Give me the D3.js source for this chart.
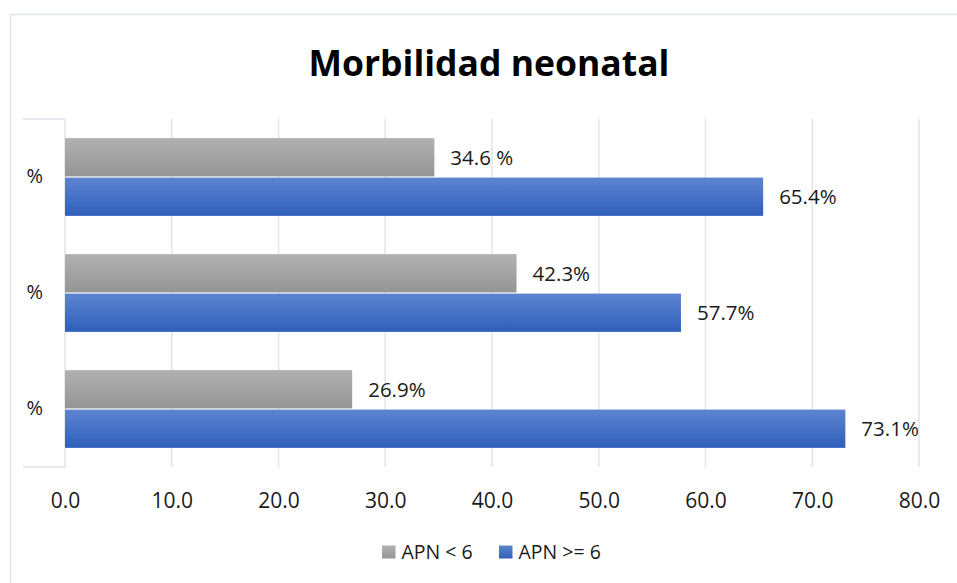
<!DOCTYPE html>
<html><head><meta charset="utf-8">
<script src="https://cdn.jsdelivr.net/npm/d3@7"></script>
<style>body{margin:0;background:#fff;} text{font-family:"Open Sans",Lato,sans-serif;}</style>
</head><body>
<svg id="c" width="957" height="583"></svg>
<script>
const categories = ["%", "%", "%"];
const seriesNames = ["APN < 6", "APN >= 6"];
const apnLess6 = [34.6, 42.3, 26.9];
const apnMore6 = [65.4, 57.7, 73.1];
const labelsLess6 = ["34.6 %", "42.3%", "26.9%"];
const labelsMore6 = ["65.4%", "57.7%", "73.1%"];
const xTicks = [0, 10, 20, 30, 40, 50, 60, 70, 80];

(function(){
const svg = d3.select("#c");
const defs = svg.append("defs");
function grad(id, c1, c2){
  const g = defs.append("linearGradient").attr("id", id).attr("x1",0).attr("y1",0).attr("x2",0).attr("y2",1);
  g.append("stop").attr("offset","0%").attr("stop-color",c1);
  g.append("stop").attr("offset","100%").attr("stop-color",c2);
}
grad("gGray", "#b1b1b1", "#959595");
grad("gBlue", "#5d84cf", "#2f5fbb");

// outer border
svg.append("path").attr("d","M10.5,583 V14.5 H957").attr("fill","none").attr("stroke","#dfe3ea").attr("stroke-width",1.5);

const pLeft = 65, pRight = 919, pTop = 119, pBottom = 467;
const x = d3.scaleLinear().domain([0, 80]).range([pLeft, pRight]);
const y = d3.scaleBand().domain(d3.range(categories.length)).range([pTop, pBottom]).paddingInner(0.33).paddingOuter(0.165);
const sub = d3.scaleBand().domain([0,1]).range([0, y.bandwidth()]).paddingInner(0.03);

// gridlines
svg.append("g").selectAll("line").data(xTicks.slice(1)).join("line")
  .attr("x1", d=>x(d)).attr("x2", d=>x(d)).attr("y1", pTop).attr("y2", pBottom)
  .attr("stroke","#e1e4ea").attr("stroke-width",1.5);

// category axis box
svg.append("path").attr("d",`M23,${pTop} H${pLeft} V${pBottom} H23`).attr("fill","none").attr("stroke","#e1e4ea").attr("stroke-width",1.5);

// x axis labels
const xAxis = d3.axisBottom(x).tickValues(xTicks).tickFormat(d3.format(".1f")).tickSize(0).tickPadding(0);
const xg = svg.append("g").attr("transform",`translate(0,${pBottom+41})`).call(xAxis);
xg.select(".domain").remove();
xg.selectAll("text").attr("font-size",21).attr("fill","#1a1a1a").attr("dy",0).style("font-family",'"Open Sans",Lato,sans-serif');

// y axis labels
const yAxis = d3.axisLeft(y).tickFormat(i=>categories[i]).tickSize(0).tickPadding(0);
const yg = svg.append("g").attr("transform",`translate(43,0)`).call(yAxis);
yg.select(".domain").remove();
yg.selectAll("text").attr("font-size",20).attr("fill","#1a1a1a").style("font-family",'"Open Sans",Lato,sans-serif');

const series = [
  {vals: apnLess6, labels: labelsLess6, fill: "url(#gGray)"},
  {vals: apnMore6, labels: labelsMore6, fill: "url(#gBlue)"}
];
series.forEach((s, si) => {
  const g = svg.append("g");
  g.selectAll("rect").data(s.vals).join("rect")
    .attr("x", x(0)).attr("y", (d,i)=>y(i)+sub(si))
    .attr("width", d=>x(d)-x(0)).attr("height", sub.bandwidth())
    .attr("fill", s.fill);
  g.selectAll("text").data(s.vals).join("text")
    .attr("x", d=>x(d)+16).attr("y", (d,i)=>y(i)+sub(si)+sub.bandwidth()/2)
    .attr("dy","0.36em").attr("font-size",20.5).attr("fill","#1a1a1a")
    .text((d,i)=>s.labels[i]);
});

// title
svg.append("text").attr("x", 489).attr("y", 76).attr("text-anchor","middle")
  .attr("font-size",35.5).attr("font-weight","bold").attr("fill","#000").text("Morbilidad neonatal");

// legend
const legendColors = ["url(#gGray)", "url(#gBlue)"];
const legendX = [382, 499];
const lg = svg.append("g");
seriesNames.forEach((n,i)=>{
  lg.append("rect").attr("x",legendX[i]).attr("y",545.5).attr("width",13.5).attr("height",13).attr("fill",legendColors[i]);
  lg.append("text").attr("x",legendX[i]+19.5).attr("y",551.5).attr("dy","0.36em").attr("font-size",19.5).attr("fill","#1a1a1a").text(n);
});
})();
</script>
</body></html>
